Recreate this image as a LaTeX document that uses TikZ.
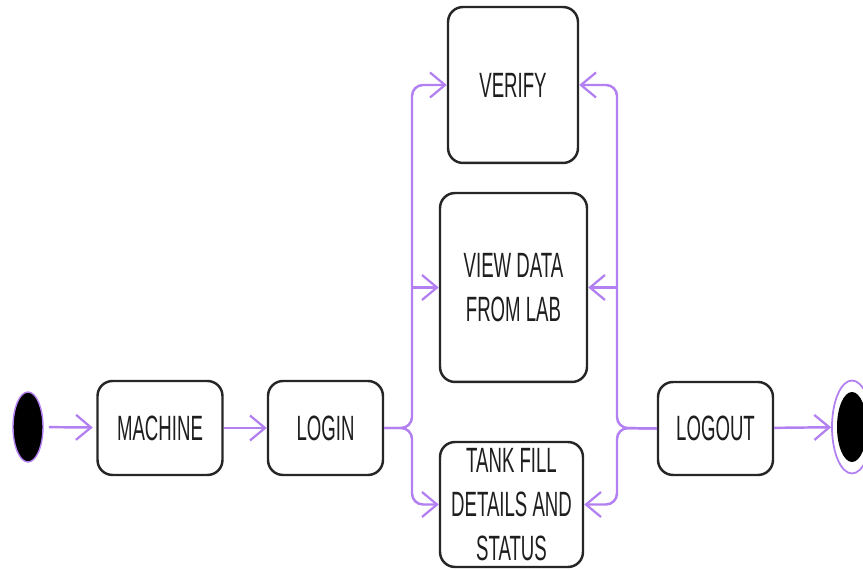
\documentclass[tikz,border=0pt]{standalone}
\usepackage{fontspec}
\newfontfamily\boxfont[FakeStretch=0.53]{Liberation Sans}
\usetikzlibrary{arrows.meta,shapes.geometric}
\definecolor{flowpurple}{RGB}{178,128,240}
\definecolor{boxtext}{RGB}{30,30,30}
\begin{document}
\begin{tikzpicture}[x=0.02cm, y=-0.02cm,
        state/.style={draw=black!85, line width=1.4pt, rounded corners=0.3cm, fill=white,
                      align=center, text=boxtext, inner sep=0pt,
                      font=\boxfont\fontsize{20}{25}\selectfont},
        flow/.style={draw=flowpurple, line width=1.4pt,
                     -{Straight Barb[length=0.3cm, width=0.5cm, line width=1.3pt]}},
        forkflow/.style={flow, rounded corners=0.22cm}]
        \useasboundingbox (0,0) rectangle (863,570);
        % start and end
        \node[ellipse, fill=black, draw=flowpurple, line width=0.8pt,
              minimum width=0.6cm, minimum height=1.4cm] (start) at (28,427) {};
        \node[ellipse, draw=flowpurple, line width=1pt, fill=white,
              minimum width=0.8cm, minimum height=1.86cm] (endring) at (852,427) {};
        \node[ellipse, fill=black, minimum width=0.6cm, minimum height=1.4cm,
              inner sep=0pt] (enddot) at (852,427) {};
        % states
        \node[state, minimum width=2.5cm,  minimum height=1.88cm] (machine)  at (160,428)   {MACHINE};
        \node[state, minimum width=2.3cm,  minimum height=1.88cm] (login)    at (325.5,428) {LOGIN};
        \node[state, minimum width=2.6cm,  minimum height=3.12cm] (verify)   at (513,85)    {VERIFY};
        \node[state, minimum width=2.94cm, minimum height=3.78cm] (viewdata) at (513.5,287.5) {VIEW DATA\\FROM LAB};
        \node[state, minimum width=2.86cm, minimum height=2.5cm]  (tankfill) at (511.5,504.5) {TANK FILL\\DETAILS AND\\STATUS};
        \node[state, minimum width=2.3cm,  minimum height=1.86cm] (logout)   at (715.5,428.5) {LOGOUT};
        % forks
        \coordinate (lfork) at (412,428);
        \coordinate (rfork) at (617,428);
        % connectors
        \draw[flow, shorten <=3pt, shorten >=2pt] (start) -- (machine);
        \draw[flow] (machine) -- (login);
        \draw[forkflow] (login.east) -- (lfork) |- (verify.west);
        \draw[forkflow] (login.east) -- (lfork) |- (tankfill.west);
        \draw[flow] (lfork |- viewdata.west) -- (viewdata.west);
        \draw[forkflow] (logout.west) -- (rfork) |- (verify.east);
        \draw[forkflow] (logout.west) -- (rfork) |- (tankfill.east);
        \draw[flow] (rfork |- viewdata.east) -- (viewdata.east);
        \draw[flow] (logout) -- (endring);
\end{tikzpicture}
\end{document}
